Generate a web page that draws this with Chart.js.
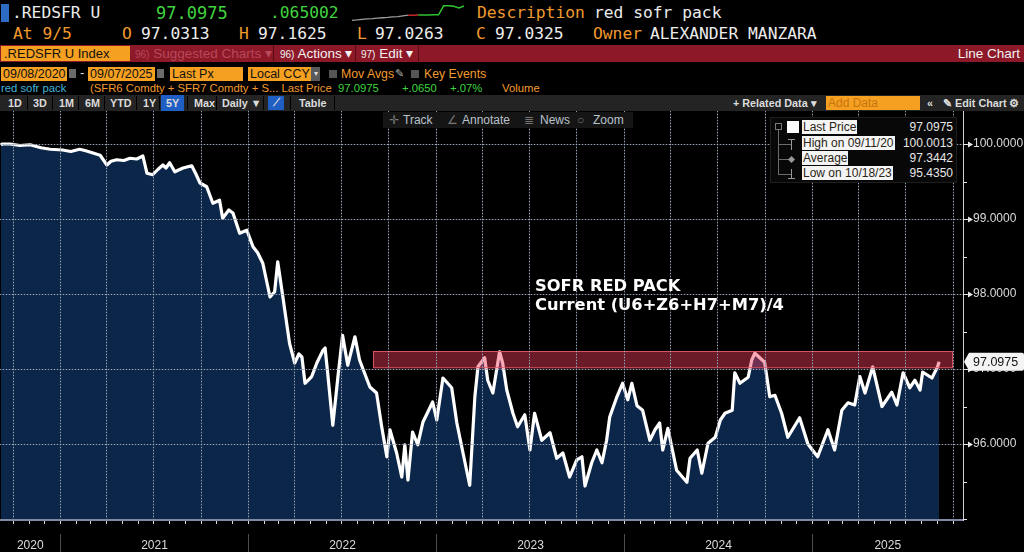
<!DOCTYPE html>
<html><head><meta charset="utf-8">
<script src="https://cdn.jsdelivr.net/npm/chart.js@4.4.1/dist/chart.umd.min.js"></script>
<style>
html,body{margin:0;padding:0;background:#000;}
body{width:1024px;height:552px;position:relative;overflow:hidden;font-family:"Liberation Sans",Arial,sans-serif;color:#fff;}
.a{position:absolute;white-space:nowrap;}
.m{font-family:"DejaVu Sans Mono",monospace;font-size:16.3px;line-height:20px;}
.or{color:#f29a2e;}
.gr{color:#3fd43f;}
.wh{color:#ececec;}
#bar3{position:absolute;left:0;top:45px;width:1024px;height:17px;background:#8c1828;}
.b3{position:absolute;top:0;height:17px;line-height:17px;font-size:13.5px;white-space:nowrap;}
.b3 small{font-size:10px;}
.box{position:absolute;background:#f5a020;color:#111;font-size:12.5px;line-height:14px;height:14px;padding-left:2px;box-sizing:border-box;white-space:nowrap;overflow:hidden;}
.r5{position:absolute;top:82px;font-size:11.3px;line-height:13px;white-space:nowrap;}
#bar6{position:absolute;left:0;top:95px;width:1024px;height:16px;background:#242424;}
.b6{position:absolute;top:0;height:16px;line-height:16px;font-size:10.8px;font-weight:bold;color:#dcdcdc;white-space:nowrap;}
.sep6{position:absolute;top:1px;width:1px;height:14px;background:#000;}
#tool{position:absolute;left:383px;top:112px;width:250px;height:16px;background:#151515;font-size:12px;line-height:16px;color:#b9c2cc;z-index:3;}
#tool span{position:absolute;top:0;}
#leg{position:absolute;left:770px;top:117px;width:185px;height:64px;background:#080808;border:1px solid #1e1e1e;z-index:3;font-size:12px;}
.ll{position:absolute;left:31px;height:14px;line-height:14px;background:#f4f4f4;color:#2b2416;padding:0 1px;white-space:nowrap;}
.lv{position:absolute;right:3px;height:14px;line-height:14px;color:#e6e6e6;text-align:right;}
.tree{position:absolute;background:#6c6c6c;}
#ann{position:absolute;left:535px;top:276px;font-family:"DejaVu Sans",sans-serif;font-weight:bold;font-size:16.3px;line-height:19px;color:#fff;z-index:3;white-space:nowrap;}
#wrap{position:absolute;left:0;top:111px;width:1024px;height:441px;}
#spark{position:absolute;left:350px;top:3px;width:116px;height:21px;}
</style></head>
<body>
<!-- row 1 -->
<div class="a" style="left:1px;top:4px;width:8px;height:18px;background:#2d6bc4;"></div>
<div class="a m wh" style="left:12px;top:3px;">.REDSFR U</div>
<div class="a m gr" style="left:156px;top:3px;font-size:17px;">97.0975</div>
<div class="a m gr" style="left:270px;top:3px;">.065002</div>
<div id="spark"><canvas id="sp" width="116" height="21"></canvas></div>
<div class="a m or" style="left:477px;top:3px;">Description</div>
<div class="a m wh" style="left:594px;top:3px;">red sofr pack</div>
<!-- row 2 -->
<div class="a m or" style="left:13px;top:24px;">At 9/5</div>
<div class="a m or" style="left:122px;top:24px;">O</div>
<div class="a m wh" style="left:141px;top:24px;">97.0313</div>
<div class="a m or" style="left:239px;top:24px;">H</div>
<div class="a m wh" style="left:258px;top:24px;">97.1625</div>
<div class="a m or" style="left:357px;top:24px;">L</div>
<div class="a m wh" style="left:375px;top:24px;">97.0263</div>
<div class="a m or" style="left:476px;top:24px;">C</div>
<div class="a m wh" style="left:495px;top:24px;">97.0325</div>
<div class="a m or" style="left:593px;top:24px;">Owner</div>
<div class="a m wh" style="left:650px;top:24px;">ALEXANDER MANZARA</div>
<!-- row 3 -->
<div id="bar3">
  <div class="b3" style="left:1px;width:129px;top:1px;height:15px;line-height:15px;background:#f5a020;color:#111;font-size:13px;padding-left:3px;box-sizing:border-box;">.REDSFR U Index</div>
  <div class="b3" style="left:135px;color:#b8485a;"><small>96)</small> Suggested Charts ▾</div>
  <div class="b3" style="left:273px;width:1px;background:#5a0c18;"></div>
  <div class="b3" style="left:280px;color:#f2f2f2;"><small>96)</small> Actions ▾</div>
  <div class="b3" style="left:355px;width:1px;background:#5a0c18;"></div>
  <div class="b3" style="left:361px;color:#f2f2f2;"><small>97)</small> Edit ▾</div>
  <div class="b3" style="left:418px;width:1px;background:#5a0c18;"></div>
  <div class="b3" style="right:4px;color:#f2f2f2;">Line Chart</div>
</div>
<!-- row 4 -->
<div class="box" style="left:1px;top:67px;width:66px;">09/08/2020</div>
<div class="a" style="left:69px;top:69px;width:7px;height:9px;background:#6a6a6a;"></div>
<div class="a" style="left:80px;top:65px;font-size:13px;color:#ddd;">-</div>
<div class="box" style="left:88px;top:67px;width:67px;">09/07/2025</div>
<div class="a" style="left:157px;top:69px;width:7px;height:9px;background:#6a6a6a;"></div>
<div class="box" style="left:170px;top:67px;width:73px;">Last Px</div>
<div class="box" style="left:248px;top:67px;width:63px;">Local CCY</div>
<div class="a" style="left:311px;top:67px;width:9px;height:14px;background:#5a5a5a;color:#ddd;font-size:8px;line-height:14px;text-align:center;">▾</div>
<div class="a" style="left:329px;top:70px;width:8px;height:8px;background:#555;"></div>
<div class="a or" style="left:341px;top:67px;font-size:12.3px;line-height:14px;">Mov Avgs</div>
<div class="a" style="left:395px;top:66px;font-size:11px;line-height:15px;color:#aaa;">✎</div>
<div class="a" style="left:411px;top:70px;width:8px;height:8px;background:#555;"></div>
<div class="a or" style="left:424px;top:67px;font-size:12.3px;line-height:14px;">Key Events</div>
<!-- row 5 -->
<div class="r5" style="left:1px;color:#3fb2dc;">red sofr pack</div>
<div class="r5 or" style="left:90px;">(SFR6 Comdty + SFR7 Comdty + S... Last Price</div>
<div class="r5 gr" style="left:338px;">97.0975</div>
<div class="r5 gr" style="left:402px;">+.0650</div>
<div class="r5 gr" style="left:450px;">+.07%</div>
<div class="r5 or" style="left:502px;">Volume</div>
<!-- row 6 -->
<div id="bar6">
  <div class="b6" style="left:8px;">1D</div><div class="sep6" style="left:27px;"></div>
  <div class="b6" style="left:33px;">3D</div><div class="sep6" style="left:52px;"></div>
  <div class="b6" style="left:59px;">1M</div><div class="sep6" style="left:78px;"></div>
  <div class="b6" style="left:85px;">6M</div><div class="sep6" style="left:104px;"></div>
  <div class="b6" style="left:110px;">YTD</div><div class="sep6" style="left:136px;"></div>
  <div class="b6" style="left:143px;">1Y</div><div class="sep6" style="left:159px;"></div>
  <div class="b6" style="left:161px;width:23px;background:#1f5fc4;text-align:center;">5Y</div><div class="sep6" style="left:187px;"></div>
  <div class="b6" style="left:194px;">Max</div><div class="sep6" style="left:216px;"></div>
  <div class="b6" style="left:222px;">Daily ▼</div><div class="sep6" style="left:263px;"></div>
  <div class="b6" style="left:268px;width:16px;top:1px;height:14px;line-height:14px;background:#1f5fc4;text-align:center;font-size:10px;">⟋</div><div class="sep6" style="left:290px;"></div>
  <div class="b6" style="left:299px;">Table</div><div class="sep6" style="left:334px;"></div>
  <div class="b6" style="left:733px;">+ Related Data ▾</div>
  <div class="b6" style="left:826px;top:1px;width:94px;height:14px;line-height:14px;background:#f5a020;color:#c77410;font-weight:normal;font-size:12px;padding-left:2px;box-sizing:border-box;">Add Data</div>
  <div class="b6" style="left:927px;">«</div>
  <div class="b6" style="left:943px;">✎ Edit Chart</div>
  <div class="b6" style="left:1009px;">⚙</div>
</div>
<!-- chart -->
<div id="wrap"><canvas id="c" width="1024" height="441"></canvas></div>
<!-- chart toolbar -->
<div id="tool">
  <span style="left:6px;color:#777;">✛</span><span style="left:20px;">Track</span>
  <span style="left:64px;color:#777;">∠</span><span style="left:79px;">Annotate</span>
  <span style="left:141px;color:#777;">≣</span><span style="left:157px;">News</span>
  <span style="left:194px;color:#777;">○</span><span style="left:210px;">Zoom</span>
</div>
<!-- legend -->
<div id="leg">
  <div class="tree" style="left:4px;top:5px;width:7px;height:7px;background:none;border:1px solid #777;box-sizing:border-box;"></div>
  <div class="tree" style="left:7px;top:12px;width:1px;height:45px;"></div>
  <div class="tree" style="left:7px;top:26px;width:14px;height:1px;"></div>
  <div class="tree" style="left:7px;top:41px;width:14px;height:1px;"></div>
  <div class="tree" style="left:7px;top:56px;width:14px;height:1px;"></div>
  <div class="tree" style="left:20px;top:21px;width:1px;height:11px;background:#999;"></div>
  <div class="tree" style="left:17px;top:21px;width:7px;height:1px;background:#999;"></div>
  <div class="tree" style="left:18px;top:39px;width:5px;height:5px;background:#999;transform:rotate(45deg);"></div>
  <div class="tree" style="left:20px;top:51px;width:1px;height:9px;background:#999;"></div>
  <div class="tree" style="left:17px;top:60px;width:7px;height:1px;background:#999;"></div>
  <div class="tree" style="left:16px;top:3px;width:12px;height:12px;background:#fff;"></div>
  <div class="ll" style="top:2px;">Last Price</div><div class="lv" style="top:2px;">97.0975</div>
  <div class="ll" style="top:18px;">High on 09/11/20</div><div class="lv" style="top:18px;">100.0013</div>
  <div class="ll" style="top:33px;">Average</div><div class="lv" style="top:33px;">97.3442</div>
  <div class="ll" style="top:48px;">Low on 10/18/23</div><div class="lv" style="top:48px;">95.4350</div>
</div>
<div id="ann">SOFR RED PACK<br>Current (U6+Z6+H7+M7)/4</div>
<script>
// ---- data ----
const dates = [
'2020-09-08','2020-09-11','2020-09-26','2020-10-15','2020-11-04','2020-11-25','2020-12-13',
'2021-01-06','2021-01-22','2021-02-08','2021-02-20','2021-03-06','2021-03-20','2021-04-02','2021-04-10','2021-04-21',
'2021-05-05','2021-05-17','2021-05-30','2021-06-11','2021-06-19','2021-06-30','2021-07-10','2021-07-20','2021-07-26',
'2021-08-02','2021-08-12','2021-08-28','2021-09-14','2021-09-22','2021-09-30','2021-10-13','2021-10-25','2021-11-07',
'2021-11-13','2021-11-25','2021-12-03','2021-12-16','2021-12-30',
'2022-01-11','2022-01-20','2022-01-30','2022-02-13','2022-02-22','2022-02-28','2022-03-10','2022-03-23','2022-04-02',
'2022-04-10','2022-04-16','2022-04-22','2022-05-05','2022-05-15','2022-05-27','2022-05-31','2022-06-05','2022-06-15',
'2022-06-25','2022-07-04','2022-07-14','2022-07-28','2022-08-06','2022-08-26','2022-09-08','2022-09-18','2022-09-28',
'2022-10-04','2022-10-17','2022-10-27','2022-11-02','2022-11-08','2022-11-17','2022-11-27','2022-12-07','2022-12-26',
'2023-01-03','2023-01-15','2023-02-01','2023-02-11','2023-02-23','2023-03-08','2023-03-18','2023-03-24','2023-04-06',
'2023-04-12','2023-04-22','2023-05-05','2023-05-11','2023-05-19','2023-05-31','2023-06-09','2023-06-23','2023-07-03',
'2023-07-12','2023-07-26','2023-08-11','2023-08-24','2023-09-05','2023-09-18','2023-10-02','2023-10-12','2023-10-18',
'2023-10-31','2023-11-10','2023-11-20','2023-11-29','2023-12-05','2023-12-19','2023-12-30',
'2024-01-09','2024-01-17','2024-01-27','2024-02-07','2024-02-21','2024-03-02','2024-03-11','2024-03-17','2024-03-27',
'2024-04-13','2024-05-03','2024-05-09','2024-05-23','2024-06-01','2024-06-13','2024-06-27','2024-07-07','2024-07-16',
'2024-07-30','2024-08-04','2024-08-14','2024-08-30','2024-09-06','2024-09-12','2024-10-01','2024-10-11','2024-10-21',
'2024-11-03','2024-11-15','2024-12-08','2024-12-24',
'2025-01-12','2025-02-01','2025-02-14','2025-02-28','2025-03-12','2025-03-25','2025-04-04','2025-04-14','2025-04-29',
'2025-05-17','2025-06-05','2025-06-15','2025-06-27','2025-07-10','2025-07-20','2025-07-30','2025-08-04','2025-08-22',
'2025-09-02','2025-09-05'
];
const prices = [
99.99,100.00,100.00,99.98,99.99,99.95,99.93,
99.92,99.90,99.93,99.91,99.88,99.85,99.72,99.77,99.79,
99.78,99.81,99.80,99.84,99.61,99.59,99.66,99.72,99.68,
99.75,99.63,99.68,99.71,99.60,99.48,99.43,99.21,99.25,
99.01,99.12,99.08,98.81,98.85,
98.63,98.55,98.41,97.96,98.03,98.43,97.96,97.34,97.08,
97.20,97.16,96.81,96.90,97.08,97.25,97.28,96.95,96.25,
96.90,97.45,97.05,97.43,97.12,96.76,96.68,96.23,95.83,
96.19,95.88,95.56,95.99,95.52,96.16,95.99,96.29,96.56,
96.32,96.88,96.75,96.28,95.88,95.45,96.63,97.03,97.15,
96.85,96.68,97.23,97.08,96.72,96.41,96.23,96.39,95.92,
96.41,96.05,96.15,95.81,95.88,95.56,95.79,95.83,95.44,
95.75,95.92,95.75,96.05,96.36,96.63,96.81,
96.59,96.81,96.51,96.45,96.05,96.19,96.28,95.92,96.21,
95.65,95.49,95.81,95.92,95.61,96.01,96.09,96.32,96.41,
96.45,96.95,96.81,96.89,97.12,97.21,97.09,96.63,96.65,
96.41,96.09,96.35,96.00,
95.83,96.19,95.92,96.45,96.55,96.52,96.90,96.68,97.03,
96.50,96.69,96.52,96.95,96.75,96.85,96.72,96.96,96.88,
97.03,97.0975
];
const lastPrice = 97.0975;
const yearLabels = ['2020','2021','2022','2023','2024','2025'];
const yTickValues = [95,95.5,96,96.5,97,97.5,98,98.5,99,99.5,100];
const band = {from:'2022-09-01', to:'2025-10-02', low:97.01, high:97.24};
// intraday sparkline (header)
const sparkGray  = [1.0,1.2,1.5,1.8,2.0,2.3,2.5,2.7,3.0,3.2,3.6,4.0,null,null,null,null,null,null,null,null,null,null,null];
const sparkRed   = [null,null,null,null,null,null,null,null,null,null,null,4.0,4.0,4.1,null,null,null,null,null,null,null,null,null];
const sparkGreen = [null,null,null,null,null,null,null,null,null,null,null,null,null,4.1,4.1,4.1,4.2,4.2,9.5,9.6,9.3,8.2,9.4];

// ---- chart ----
const DAY = 86400000;
const T0 = Date.UTC(2021,0,1);
const X_MIN = T0 - 116.6*DAY, X_MAX = T0 + 1754.4*DAY;
const Y_MIN = 94.987, Y_MAX = 100.44;
const pts = dates.map((d,i)=>({x:Date.parse(d), y:prices[i]}));
const quarterTicks = [];
for (let y=2020;y<=2025;y++) for (let m=0;m<12;m+=3){const t=Date.UTC(y,m,1); if(t>X_MIN && t<X_MAX) quarterTicks.push(t);}

function drawGrid(chart){
  const xs=chart.scales.x, ys=chart.scales.y, ctx=chart.ctx, ca=chart.chartArea;
  const vx = quarterTicks.map(v=>Math.round(xs.getPixelForValue(v))+0.5);
  const hy = yTickValues.filter(v=>Number.isInteger(v) && v>=96).map(v=>Math.round(ys.getPixelForValue(v))+0.5);
  ctx.save();
  ctx.lineWidth=1;
  // faint continuous base
  ctx.strokeStyle='rgba(115,125,145,0.38)';
  ctx.beginPath();
  vx.forEach(px=>{ ctx.moveTo(px,ca.top); ctx.lineTo(px,ca.bottom); });
  hy.forEach(py=>{ ctx.moveTo(ca.left,py); ctx.lineTo(ca.right,py); });
  ctx.stroke();
  // brighter dots on top
  ctx.strokeStyle='rgba(165,175,195,0.9)';
  ctx.setLineDash([1,2]);
  ctx.beginPath();
  vx.forEach(px=>{ ctx.moveTo(px,ca.top); ctx.lineTo(px,ca.bottom); });
  hy.forEach(py=>{ ctx.moveTo(ca.left,py); ctx.lineTo(ca.right,py); });
  ctx.stroke();
  ctx.restore();
}

const bbg = {
  id:'bbg',
  afterDatasetsDraw(chart){
    const xs=chart.scales.x, ys=chart.scales.y, ctx=chart.ctx;
    const x1=xs.getPixelForValue(Date.parse(band.from)), x2=xs.getPixelForValue(Date.parse(band.to));
    const y1=ys.getPixelForValue(band.high), y2=ys.getPixelForValue(band.low);
    ctx.save();
    ctx.fillStyle='rgba(243,59,91,0.44)';
    ctx.fillRect(x1,y1,x2-x1,y2-y1);
    ctx.strokeStyle='rgba(225,85,100,0.95)'; ctx.lineWidth=1;
    ctx.strokeRect(Math.round(x1)+0.5,Math.round(y1)+0.5,x2-x1-1,y2-y1-1);
    ctx.restore();
    drawGrid(chart);
  },
  afterDraw(chart){
    const xs=chart.scales.x, ys=chart.scales.y, ctx=chart.ctx, ca=chart.chartArea;
    const H = chart.height;
    ctx.save();
    // bottom axis band + monthly ticks
    ctx.fillStyle='#7d8ca3';
    ctx.fillRect(ca.left, ca.bottom-1, ca.right-ca.left, 2);
    ctx.strokeStyle='#d8d8d8'; ctx.lineWidth=1;
    for (let y=2020;y<=2025;y++) for (let m=0;m<12;m++){
      const t=Date.UTC(y,m,1); if(t<=X_MIN||t>=X_MAX) continue;
      const px=Math.round(xs.getPixelForValue(t))+0.5;
      ctx.beginPath(); ctx.moveTo(px,ca.bottom+1); ctx.lineTo(px,ca.bottom+4); ctx.stroke();
    }
    // year separators and labels
    ctx.strokeStyle='#4d4d4d';
    const bounds=[ca.left];
    for (let y=2021;y<=2025;y++){
      const px=Math.round(xs.getPixelForValue(Date.UTC(y,0,1)))+0.5;
      bounds.push(px);
      ctx.beginPath(); ctx.moveTo(px,H-18); ctx.lineTo(px,H); ctx.stroke();
    }
    bounds.push(ca.right);
    ctx.fillStyle='#dcdcdc'; ctx.font='12px "Liberation Sans", Arial'; ctx.textAlign='center'; ctx.textBaseline='middle';
    yearLabels.forEach((lab,i)=>{ ctx.fillText(lab,(bounds[i]+bounds[i+1])/2,H-6); });
    // right axis tick markers
    ctx.strokeStyle='#e6e6e6'; ctx.fillStyle='#e6e6e6';
    yTickValues.forEach(v=>{
      const py=Math.round(ys.getPixelForValue(v))+0.5;
      ctx.beginPath();
      if (Number.isInteger(v) && v>=96){
        ctx.moveTo(ca.right,py); ctx.lineTo(ca.right+6,py); ctx.stroke();
        ctx.beginPath(); ctx.moveTo(ca.right+10,py); ctx.lineTo(ca.right+5,py-3); ctx.lineTo(ca.right+5,py+3); ctx.closePath(); ctx.fill();
      } else {
        ctx.moveTo(ca.right,py); ctx.lineTo(ca.right+4,py); ctx.stroke();
      }
    });
    // last price tag
    const ly=ys.getPixelForValue(lastPrice);
    ctx.fillStyle='#f4f4f4';
    ctx.beginPath();
    ctx.moveTo(ca.right+1,ly); ctx.lineTo(ca.right+6,ly-9); ctx.lineTo(1022,ly-9);
    ctx.quadraticCurveTo(1024,ly-9,1024,ly-7); ctx.lineTo(1024,ly+7); ctx.quadraticCurveTo(1024,ly+9,1022,ly+9);
    ctx.lineTo(ca.right+6,ly+9); ctx.closePath(); ctx.fill();
    ctx.fillStyle='#111'; ctx.textAlign='left'; ctx.font='12.5px "Liberation Sans", Arial';
    ctx.fillText(lastPrice.toFixed(4), ca.right+10, ly+0.5);
    ctx.restore();
  }
};

new Chart(document.getElementById('c'), {
  type:'line',
  data:{datasets:[{
    data:pts, borderColor:'#ffffff', borderWidth:3.2, pointRadius:0, tension:0,
    fill:'start', backgroundColor:'#0b2649', borderJoinStyle:'round'
  }]},
  options:{
    responsive:false, animation:false,
    layout:{padding:0},
    plugins:{legend:{display:false}, tooltip:{enabled:false}},
    scales:{
      x:{type:'linear', min:X_MIN, max:X_MAX, position:'bottom',
         afterFit(s){ s.height = 32; s.paddingLeft = 0; s.paddingRight = 0; },
         ticks:{display:false},
         grid:{display:false, drawTicks:false},
         border:{display:false}},
      y:{type:'linear', position:'right', min:Y_MIN, max:Y_MAX, z:1,
         afterBuildTicks(s){ s.ticks = yTickValues.map(v=>({value:v})); },
         afterFit(s){ s.width = 61; s.paddingTop = 0; s.paddingBottom = 0; },
         ticks:{padding:10, color:'#dadada', font:{family:'"Liberation Sans", Arial', size:12},
                callback:(v)=> (Number.isInteger(v) && v>=96) ? Number(v).toFixed(4) : ''},
         grid:{display:false, drawTicks:false},
         border:{display:true, color:'#cfcfcf', width:1}}
    }
  },
  plugins:[bbg]
});

// header sparkline
new Chart(document.getElementById('sp'), {
  type:'line',
  data:{labels:sparkGray.map((_,i)=>i), datasets:[
    {data:sparkGray, borderColor:'#9c9c9c', borderWidth:1.3, pointRadius:0},
    {data:sparkRed, borderColor:'#c42626', borderWidth:1.5, pointRadius:0},
    {data:sparkGreen, borderColor:'#2fc22f', borderWidth:1.5, pointRadius:0}
  ]},
  options:{responsive:false, animation:false, layout:{padding:2},
    plugins:{legend:{display:false}, tooltip:{enabled:false}},
    scales:{x:{display:false}, y:{display:false, min:0, max:10}}}
});
</script>
</body></html>
